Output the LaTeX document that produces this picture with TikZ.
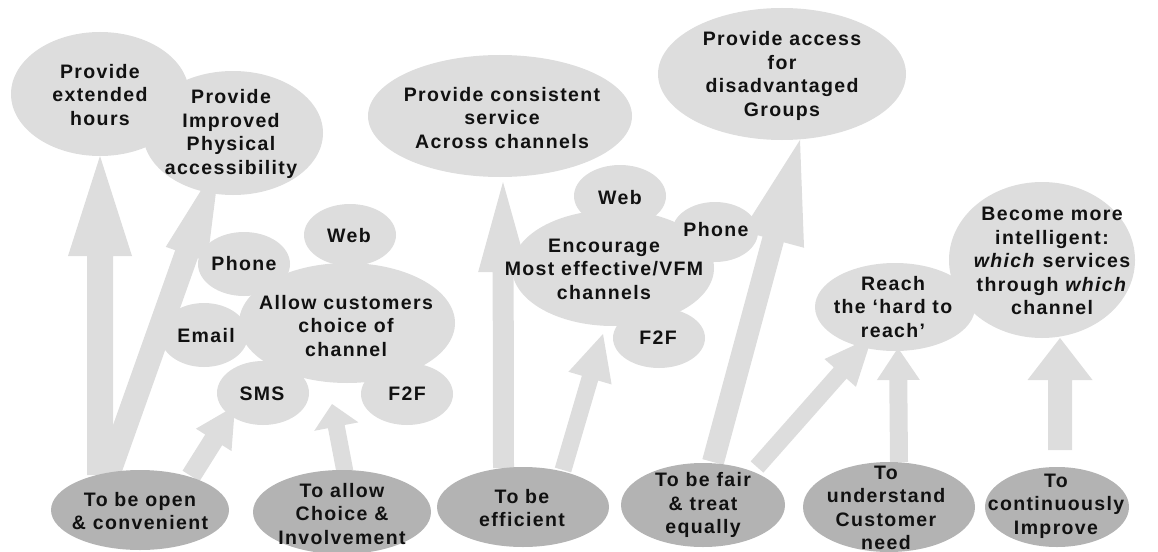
\documentclass[tikz,border=0pt]{standalone}
\usepackage{fontspec}
\setmainfont{Liberation Sans}[LetterSpace=7]
\usetikzlibrary{shapes.geometric,calc}
\definecolor{lightfill}{HTML}{DDDDDD}
\definecolor{darkfill}{HTML}{B3B3B3}
\definecolor{txt}{HTML}{111111}
\newcommand\blockarrow[5]{%
  \coordinate (bah) at ($(#2)!#5pt!(#1)$);
  \fill[arrowfill] ($(#1)!#3*0.5pt!90:(#2)$) -- ($(bah)!#3*0.5pt!90:(#2)$)
    -- ($(bah)!#4*0.5pt!90:(#2)$) -- (#2) -- ($(bah)!#4*0.5pt!-90:(#2)$)
    -- ($(bah)!#3*0.5pt!-90:(#2)$) -- ($(#1)!#3*0.5pt!-90:(#2)$) -- cycle;}
\tikzset{
  arrowfill/.style={fill=lightfill},
  lell/.style={ellipse, fill=lightfill, inner sep=0pt},
  dell/.style={ellipse, fill=darkfill, inner sep=0pt},
  lbl/.style={align=center, inner sep=0pt, text=txt,
    font=\fontsize{19.5}{23.5}\selectfont\bfseries},
}
\begin{document}
\begin{tikzpicture}[x=1pt,y=-1pt]
\useasboundingbox (0,0) rectangle (1158,551);
% arrow end points
\coordinate (a1s) at (100,475);   \coordinate (a1t) at (100,156);
\coordinate (a2s) at (108,475);   \coordinate (a2t) at (220,160);
\coordinate (a3s) at (191,476);   \coordinate (a3t) at (235,406);
\coordinate (a4s) at (345,472);   \coordinate (a4t) at (332,404);
\coordinate (a5s) at (503.5,468); \coordinate (a5t) at (503,182);
\coordinate (a6s) at (563,470);   \coordinate (a6t) at (603,334);
\coordinate (a7s) at (713,462);   \coordinate (a7t) at (800,140);
\coordinate (a8s) at (757,467);   \coordinate (a8t) at (872,337);
\coordinate (a9s) at (899,462);   \coordinate (a9t) at (898,348);
\coordinate (a10s) at (1060,450); \coordinate (a10t) at (1060,338);
% block arrows
\blockarrow{a1s}{a1t}{26}{64}{100}
\blockarrow{a2s}{a2t}{24}{44}{100}
\blockarrow{a3s}{a3t}{20}{42}{40}
\blockarrow{a4s}{a4t}{17}{45}{23}
\blockarrow{a5s}{a5t}{21}{50}{90}
\blockarrow{a6s}{a6t}{17}{45}{46}
\blockarrow{a7s}{a7t}{22}{64}{103}
\blockarrow{a8s}{a8t}{17}{42}{48}
\blockarrow{a9s}{a9t}{18}{43}{32}
\blockarrow{a10s}{a10t}{24}{65}{42}
% light ellipses
\node[lell, minimum width=178pt, minimum height=124pt] (hours) at (100,94) {};
\node[lell, minimum width=180pt, minimum height=124pt] (phys) at (233,133) {};
\node[lell, minimum width=216pt, minimum height=120pt] (allow) at (347,323) {};
\node[lell, minimum width=92pt, minimum height=62pt] (webL) at (350,235) {};
\node[lell, minimum width=92pt, minimum height=64pt] (phoneL) at (244,264) {};
\node[lell, minimum width=88pt, minimum height=64pt] (email) at (204,335) {};
\node[lell, minimum width=92pt, minimum height=64pt] (sms) at (263,393) {};
\node[lell, minimum width=92pt, minimum height=62pt] (f2fL) at (407,394) {};
\node[lell, minimum width=264pt, minimum height=122pt] (consist) at (500,116) {};
\node[lell, minimum width=248pt, minimum height=132pt] (access) at (782,74) {};
\node[lell, minimum width=202pt, minimum height=116pt] (encourage) at (613,268) {};
\node[lell, minimum width=92pt, minimum height=62pt] (webM) at (620,196) {};
\node[lell, minimum width=86pt, minimum height=60pt] (phoneM) at (715,232) {};
\node[lell, minimum width=92pt, minimum height=60pt] (f2fM) at (659,338) {};
\node[lell, minimum width=160pt, minimum height=88pt] (reach) at (895,307) {};
\node[lell, minimum width=186pt, minimum height=156pt] (become) at (1042,260) {};
% dark ellipses
\node[dell, minimum width=178pt, minimum height=80pt] (open) at (140,510) {};
\node[dell, minimum width=178pt, minimum height=84pt] (choice) at (342,512) {};
\node[dell, minimum width=172pt, minimum height=80pt] (effic) at (523,507) {};
\node[dell, minimum width=164pt, minimum height=84pt] (fair) at (703,505) {};
\node[dell, minimum width=172pt, minimum height=90pt] (underst) at (889,507) {};
\node[dell, minimum width=144pt, minimum height=80pt] (contin) at (1057,507) {};
% labels
\node[lbl] (thours) at (100,95) {Provide\\extended\\hours};
\node[lbl] (tphys) at (231,134) {Provide\\Improved\\Physical\\accessibility};
\node[lbl] (twebL) at (349,236) {Web};
\node[lbl] (tphoneL) at (244,264) {Phone};
\node[lbl] (tallow) at (346,326) {Allow customers\\choice of\\channel};
\node[lbl] (temail) at (206,336) {Email};
\node[lbl] (tsms) at (262,394) {SMS};
\node[lbl] (tf2fL) at (407,394) {F2F};
\node[lbl] (tconsist) at (502,118) {Provide consistent\\service\\Across channels};
\node[lbl] (taccess) at (782,76) {Provide access\\for\\disadvantaged\\Groups};
\node[lbl] (twebM) at (620,198) {Web};
\node[lbl] (tphoneM) at (716,230) {Phone};
\node[lbl] (tencourage) at (604,269) {Encourage\\Most effective/VFM\\channels};
\node[lbl] (tf2fM) at (658,338) {F2F};
\node[lbl] (treach) at (893,307) {Reach\\the ‘hard to\\reach’};
\node[lbl] (tbecome) at (1052,261) {Become more\\intelligent:\\\textit{which} services\\through \textit{which}\\channel};
\node[lbl] (topen) at (140,511) {To be open\\\& convenient};
\node[lbl] (tchoice) at (342,514) {To allow\\Choice \&\\Involvement};
\node[lbl] (teffic) at (522,508) {To be\\efficient};
\node[lbl] (tfair) at (703,505) {To be fair\\\& treat\\equally};
\node[lbl] (tunderst) at (886,508) {To\\understand\\Customer\\need};
\node[lbl] (tcontin) at (1056,506) {To\\continuously\\Improve};
\end{tikzpicture}
\end{document}
